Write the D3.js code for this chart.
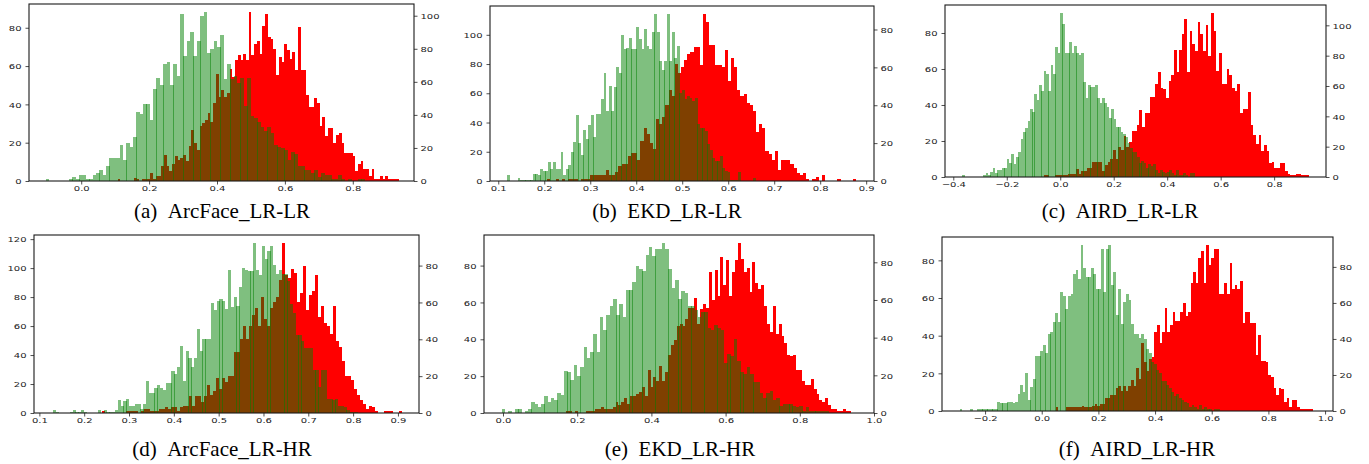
<!DOCTYPE html>
<html><head><meta charset="utf-8">
<script src="https://cdn.jsdelivr.net/npm/d3@7"></script>
<style>body{margin:0;background:#fff}svg{display:block}</style>
</head><body>
<svg id="chart" width="1369" height="464"></svg>
<script>
// ---------- data: [bin start, bin width] and counts per bin ----------
const aGreenBins = [-0.105, 0.0099];
const aGreen = [1,0,0,0,0,0,0,1,2,1,3,3,1,1,3,4,6,3,8,12,12,12,19,11,20,18,23,36,35,40,40,32,48,54,50,61,62,50,61,55,87,65,73,78,65,73,86,88,67,69,73,70,76,53,61,53,55,51,54,39,54,34,33,31,28,26,28,25,19,18,17,16,11,15,14,8,8,6,6,4,6,2,4,3,3,1,1,3,1,0,1,0,0,1,1];
const aRedBins = [0.107, 0.00805];
const aRed = [1,0,0,0,0,0,2,1,0,1,1,1,5,1,3,3,9,16,9,6,10,15,13,14,16,12,21,31,23,19,33,35,37,41,36,47,65,51,55,51,53,68,63,73,76,73,77,73,102,76,83,85,77,94,101,87,86,80,64,75,72,83,79,74,78,67,93,67,67,52,45,45,50,47,33,39,27,32,32,23,28,29,23,17,17,17,15,6,10,12,7,7,3,7,1,1,3,1,3,1,1,1,1];

const bGreenBins = [0.12, 0.0055];
const bGreen = [4,0,0,0,2,1,1,1,1,1,5,5,4,8,7,7,13,8,13,8,8,20,4,8,11,20,27,45,26,18,35,29,38,45,30,46,46,56,74,48,65,48,64,78,74,100,90,91,98,90,90,105,97,90,104,92,90,102,114,102,82,76,82,114,82,102,84,92,60,62,56,58,57,55,57,39,36,36,34,25,21,16,14,14,17,9,7,6,1,1,1,6,0,0,0,0,0,2,0,0];
const bRedBins = [0.205, 0.0068];
const bRed = [1,0,0,1,0,1,0,1,1,1,0,1,1,1,3,3,3,3,3,6,3,3,5,8,9,9,13,15,15,11,21,28,25,20,17,33,30,34,40,48,45,62,57,60,64,67,68,71,71,61,88,84,72,72,61,61,60,69,53,65,60,48,45,46,41,40,37,26,30,28,16,14,11,16,6,11,11,11,9,7,4,3,4,1,0,1,2,0,3,0,0,0,0,1,0,0,0,0,1,0];

const cGreenBins = [-0.366, 0.0087];
const cGreen = [1,0,0,0,0,0,0,0,0,1,2,1,3,5,2,4,4,5,5,10,8,13,7,11,14,21,25,27,31,38,36,46,43,51,48,59,57,48,62,57,72,69,91,85,69,69,75,69,73,69,68,69,53,44,51,50,50,51,44,41,44,41,39,33,38,32,28,28,25,24,22,19,16,14,14,11,8,9,8,5,7,6,7,4,2,4,3,2,3,4,2,1,4,1,1,2,1,0,2,2];
const cRedBins = [-0.06, 0.0099];
const cRed = [1,1,0,0,1,1,1,1,1,2,2,2,5,2,4,4,6,6,10,10,10,10,4,8,10,12,18,12,20,18,27,20,23,30,30,34,44,33,42,42,53,53,61,69,59,58,52,63,67,84,69,84,94,104,69,96,88,83,102,94,83,100,80,108,96,70,82,61,61,71,67,59,57,61,42,45,45,56,34,28,22,28,17,21,17,9,10,6,6,9,9,4,2,1,1,2,2,1,1,1];

const dGreenBins = [0.13, 0.0063];
const dGreen = [2,1,0,0,0,0,1,2,1,1,2,1,0,0,0,0,2,0,2,1,1,1,2,9,5,8,10,5,5,6,6,3,6,22,14,14,17,19,17,16,21,21,29,27,32,46,22,43,38,32,38,58,43,51,51,51,76,71,77,79,77,72,99,73,80,74,87,100,99,98,98,117,99,95,115,106,112,115,102,96,99,96,96,91,75,69,54,54,50,45,45,45,30,30,18,30,30,10,10,9,10,5,5,4,2,1,1,1];
const dRedBins = [0.24, 0.0067];
const dRed = [1,0,0,0,0,0,0,0,1,1,1,1,0,1,2,2,1,1,1,2,2,3,2,3,3,1,3,4,4,9,4,9,9,6,9,15,10,12,19,13,19,17,20,20,33,33,40,47,40,47,53,57,47,63,51,47,57,60,63,72,92,75,73,78,76,60,65,80,56,64,66,75,52,58,49,47,43,58,39,36,28,20,20,18,13,10,7,5,2,4,3,1,0,0,1,1,1,0,0,1];

const eGreenBins = [-0.003, 0.0088];
const eGreen = [2,0,1,0,2,2,0,1,2,6,5,3,5,9,6,8,7,11,10,23,22,18,26,20,25,36,30,33,43,33,52,45,53,58,62,53,59,52,67,67,71,80,78,77,86,90,85,89,89,92,89,78,68,72,62,66,65,58,58,56,52,55,55,46,45,48,46,45,27,32,31,40,28,22,21,25,21,17,17,11,8,11,12,7,8,4,5,5,5,4,3,4,1,3,1,1,1,1,1,1];
const eRedBins = [0.17, 0.00785];
const eRed = [1,1,0,1,0,0,0,1,1,1,2,2,3,2,2,2,3,6,4,6,8,5,9,9,10,11,14,9,23,14,19,17,25,17,22,31,36,39,46,47,46,50,56,56,61,47,55,58,56,75,60,76,62,83,68,81,62,75,81,90,82,75,77,64,80,69,66,68,57,47,43,57,42,47,41,37,31,30,31,23,23,17,15,15,18,13,10,7,6,8,4,2,2,1,1,2,1,1,0,0];

const fGreenBins = [-0.29, 0.0089];
const fGreen = [1,0,0,0,1,0,0,1,1,1,1,1,1,1,1,5,4,4,4,5,5,4,5,9,14,10,20,6,13,17,29,29,32,35,31,41,42,47,52,47,63,61,54,61,62,73,75,70,88,76,71,71,76,73,65,65,86,63,86,88,67,74,51,65,46,58,62,59,46,41,41,39,41,38,33,31,26,25,22,20,16,16,14,12,10,8,9,7,6,5,4,2,3,2,1,3,1,2,1,1,0,1,1];
const fRedBins = [0.05, 0.00915];
const fRed = [2,0,0,0,2,2,2,2,2,2,3,2,2,2,3,4,3,4,4,7,7,9,9,13,14,11,14,11,14,17,14,24,18,38,27,22,29,30,44,48,38,44,57,44,48,55,50,50,55,60,53,55,71,77,71,85,89,71,92,81,85,90,90,65,65,71,65,82,68,70,68,72,49,55,55,49,49,31,42,28,28,27,20,19,13,9,13,12,5,7,2,6,6,2,1,1,1,1,1];

// tick values
const aXTicks = [0, 0.2, 0.4, 0.6, 0.8];
const bXTicks = [0.1, 0.2, 0.3, 0.4, 0.5, 0.6, 0.7, 0.8, 0.9];
const cXTicks = [-0.4, -0.2, 0, 0.2, 0.4, 0.6, 0.8];
const dXTicks = [0.1, 0.2, 0.3, 0.4, 0.5, 0.6, 0.7, 0.8, 0.9];
const eXTicks = [0, 0.2, 0.4, 0.6, 0.8, 1.0];
const fXTicks = [-0.2, 0, 0.2, 0.4, 0.6, 0.8, 1.0];
const countTicks = [0, 20, 40, 60, 80, 100, 120];

const captionLetters = ["(a)", "(b)", "(c)", "(d)", "(e)", "(f)"];
const captionNames = ["ArcFace_LR-LR", "EKD_LR-LR", "AIRD_LR-LR", "ArcFace_LR-HR", "EKD_LR-HR", "AIRD_LR-HR"];

// ---------- layout ----------
const panels = [
  {box:[29,4,414,181],   xd:[-0.1538,0.9803], xt:aXTicks, g:aGreen, gb:aGreenBins, r:aRed, rb:aRedBins, cx:222, cy:218},
  {box:[490,6,874,181],  xd:[0.082,0.917],   xt:bXTicks, g:bGreen, gb:bGreenBins, r:bRed, rb:bRedBins, cx:667, cy:218},
  {box:[945,5,1326,177], xd:[-0.431,0.994],  xt:cXTicks, g:cGreen, gb:cGreenBins, r:cRed, rb:cRedBins, cx:1120, cy:218},
  {box:[34,235,419,413], xd:[0.088,0.947],   xt:dXTicks, g:dGreen, gb:dGreenBins, r:dRed, rb:dRedBins, cx:222, cy:456},
  {box:[484,235,874,413],xd:[-0.0512,1.0],   xt:eXTicks, g:eGreen, gb:eGreenBins, r:eRed, rb:eRedBins, cx:680, cy:456},
  {box:[942,237,1333,411],xd:[-0.352,1.028], xt:fXTicks, g:fGreen, gb:fGreenBins, r:fRed, rb:fRedBins, cx:1137, cy:456}
];

const svg = d3.select("#chart");
const fmtX = d3.format(".1f");
const FS = 10, SQ = 0.75;

function bins(counts, b) {
  return counts.map((v, i) => ({v, x0: b[0] + i * b[1], x1: b[0] + (i + 1) * b[1]})).filter(d => d.v > 0);
}

panels.forEach((p, pi) => {
  const [L, T, R, B] = p.box;
  const x = d3.scaleLinear().domain(p.xd).range([L, R]);
  const yL = d3.scaleLinear().domain([0, d3.max(p.g) * 1.05]).range([B, T]);
  const yR = d3.scaleLinear().domain([0, d3.max(p.r) * 1.05]).range([B, T]);
  const g = svg.append("g");

  // red series (right axis), opaque
  g.append("g").selectAll("rect").data(bins(p.r, p.rb)).join("rect")
    .attr("shape-rendering", "crispEdges")
    .attr("x", d => Math.round(x(d.x0)))
    .attr("width", d => Math.max(1, Math.round(x(d.x1)) - Math.round(x(d.x0))))
    .attr("y", d => Math.round(yR(d.v)))
    .attr("height", d => Math.round(yR(0)) - Math.round(yR(d.v)))
    .attr("fill", "#ff0000");

  // green series (left axis), alpha 0.5 on top
  g.append("g").selectAll("rect").data(bins(p.g, p.gb)).join("rect")
    .attr("shape-rendering", "crispEdges")
    .attr("x", d => Math.round(x(d.x0)))
    .attr("width", d => Math.max(1, Math.round(x(d.x1) + 0.35) - Math.round(x(d.x0))))
    .attr("y", d => Math.round(yL(d.v)))
    .attr("height", d => Math.round(yL(0)) - Math.round(yL(d.v)))
    .attr("fill", "#008000").attr("fill-opacity", 0.5);

  // axes
  const styleAxis = (sel, kind) => {
    sel.select(".domain").remove();
    sel.selectAll(".tick line").attr("stroke", "#222").attr("stroke-width", 0.8);
    const t = sel.selectAll(".tick text")
      .attr("font-family", "DejaVu Sans").attr("font-size", FS).attr("fill", "#222")
      .attr("y", 0).attr("dy", 0).attr("x", 0);
    if (kind === "b") t.attr("transform", `translate(0,10.2) scale(1,${SQ})`);
    if (kind === "l") t.attr("transform", `translate(-7.5,2.7) scale(1,${SQ})`);
    if (kind === "r") t.attr("transform", `translate(6.5,2.7) scale(1,${SQ})`);
  };
  const yMaxL = yL.domain()[1], yMaxR = yR.domain()[1];
  g.append("g").attr("transform", `translate(0,${B})`)
    .call(d3.axisBottom(x).tickValues(p.xt).tickSize(3.5).tickFormat(fmtX))
    .call(s => styleAxis(s, "b"));
  g.append("g").attr("transform", `translate(${L},0)`)
    .call(d3.axisLeft(yL).tickValues(countTicks.filter(v => v <= yMaxL)).tickSize(3.5).tickFormat(d3.format("d")))
    .call(s => styleAxis(s, "l"));
  g.append("g").attr("transform", `translate(${R},0)`)
    .call(d3.axisRight(yR).tickValues(countTicks.filter(v => v <= yMaxR)).tickSize(3.5).tickFormat(d3.format("d")))
    .call(s => styleAxis(s, "r"));

  // frame
  g.append("rect").attr("x", L).attr("y", T).attr("width", R - L).attr("height", B - T)
    .attr("fill", "none").attr("stroke", "#1a1a1a").attr("stroke-width", 1.1);

  // caption
  g.append("text").attr("x", p.cx).attr("y", p.cy).attr("text-anchor", "middle")
    .attr("font-family", "Liberation Serif").attr("font-size", 21).attr("fill", "#000")
    .style("white-space", "pre")
    .text(captionLetters[pi] + "\u00a0\u00a0" + captionNames[pi]);
});
</script>
</body></html>
